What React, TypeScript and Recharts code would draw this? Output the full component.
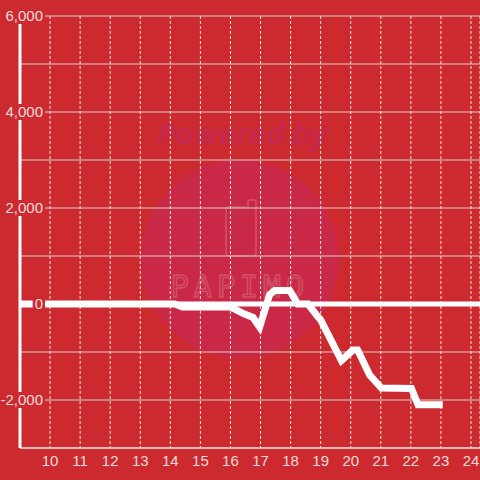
import React from 'react';
import { LineChart, Line, XAxis, YAxis, CartesianGrid, ReferenceLine } from 'recharts';

const hours = [9, 14.15, 14.4, 16.0, 16.4, 16.75, 16.97, 17.3, 17.47, 17.97, 18.24, 18.58, 18.9, 19.0, 19.69, 20.07, 20.23, 20.63, 21.02, 22.02, 22.24, 23.06];
const values = [0, 0, -60, -60, -190, -280, -480, 190, 280, 280, 0, 0, -260, -330, -1180, -960, -960, -1480, -1750, -1760, -2100, -2100];
const xTicks = [10, 11, 12, 13, 14, 15, 16, 17, 18, 19, 20, 21, 22, 23, 24];
const yTicks = [-3000, -2000, -1000, 0, 1000, 2000, 3000, 4000, 5000, 6000];
const yLabelValues = [-2000, 0, 2000, 4000, 6000];

const data = hours.map((h, i) => ({ h, v: values[i] }));

const BG = '#cc2a2f';
const TEXT = '#f3dada';
const FONT = "'Liberation Sans', Arial, sans-serif";

const fmt = (n: number) => n.toLocaleString('en-US');

const textWidth = (s: string) => {
  let w = 0;
  for (const c of s) {
    if (c === ',') w += 4.2;
    else if (c === '-') w += 5.0;
    else w += 8.34;
  }
  return w;
};

const YTick = (props: any) => {
  const { y, payload } = props;
  const val = payload.value;
  if (!yLabelValues.includes(val)) return <g />;
  const s = fmt(val);
  const w = textWidth(s);
  const right = 43;
  return (
    <g>
      <rect x={right - w - 2} y={y - 8} width={w + 4} height={16} fill={BG} />
      <text x={right} y={y} dy={5} textAnchor="end" fill={TEXT} fontSize={15} fontFamily={FONT}>
        {s}
      </text>
    </g>
  );
};

const XTick = (props: any) => {
  const { x, payload } = props;
  return (
    <text x={x} y={466} textAnchor="middle" fill={TEXT} fontSize={15} fontFamily={FONT}>
      {payload.value}
    </text>
  );
};

const Watermark = () => (
  <svg width={480} height={480} style={{ position: 'absolute', left: 0, top: 0 }}>
    <circle cx={240} cy={259} r={99} fill="#c92947" />
    <text x={242} y={145} textAnchor="middle" fill="#c6284b" fontSize={31} fontWeight="bold" fontStyle="italic" fontFamily="'Open Sans', 'Liberation Sans', sans-serif">
      Powered by
    </text>
    <path d="M229,207 L248,207 L248,202 Q248,200 250,200 L254,200 Q256,200 256,202 L256,253 Q256,256 253,256 L229,256 Q226,256 226,253 L226,210 Q226,207 229,207 Z" fill="none" stroke="#d4506a" strokeWidth={1.6} />
    <text x={240} y={297} textAnchor="middle" fill="none" stroke="#d4506a" strokeWidth={1.4} fontSize={30} letterSpacing={5} fontFamily="'DejaVu Sans Mono', monospace">
      PAPIMO
    </text>
  </svg>
);

export default function App() {
  return (
    <div style={{ position: 'fixed', left: 0, top: 0, width: 480, height: 480, background: BG, overflow: 'hidden' }}>
      <Watermark />
      <div style={{ position: 'absolute', left: 0, top: 0 }}>
        <LineChart width={480} height={480} data={data} margin={{ top: 16, right: 0, left: 0, bottom: 0 }}>
          <CartesianGrid vertical={false} stroke="#d6d0d0" strokeWidth={1} />
          <CartesianGrid horizontal={false} stroke="#ece6e6" strokeDasharray="3 2" strokeWidth={1} />
          <ReferenceLine y={0} stroke="#ffffff" strokeWidth={5} />
          <XAxis
            dataKey="h"
            type="number"
            domain={[9, 24.3]}
            ticks={xTicks}
            height={32}
            axisLine={{ stroke: '#d6d0d0', strokeWidth: 1.5 }}
            tickLine={false}
            tick={<XTick />}
            interval={0}
            allowDataOverflow
          />
          <YAxis
            type="number"
            domain={[-3000, 6000]}
            ticks={yTicks}
            width={20}
            axisLine={{ stroke: '#ffffff', strokeWidth: 3 }}
            tickLine={false}
            tick={<YTick />}
            interval={0}
          />
          <Line
            dataKey="v"
            type="linear"
            stroke="#ffffff"
            strokeWidth={7}
            dot={false}
            activeDot={false}
            isAnimationActive={false}
          />
        </LineChart>
      </div>
    </div>
  );
}
